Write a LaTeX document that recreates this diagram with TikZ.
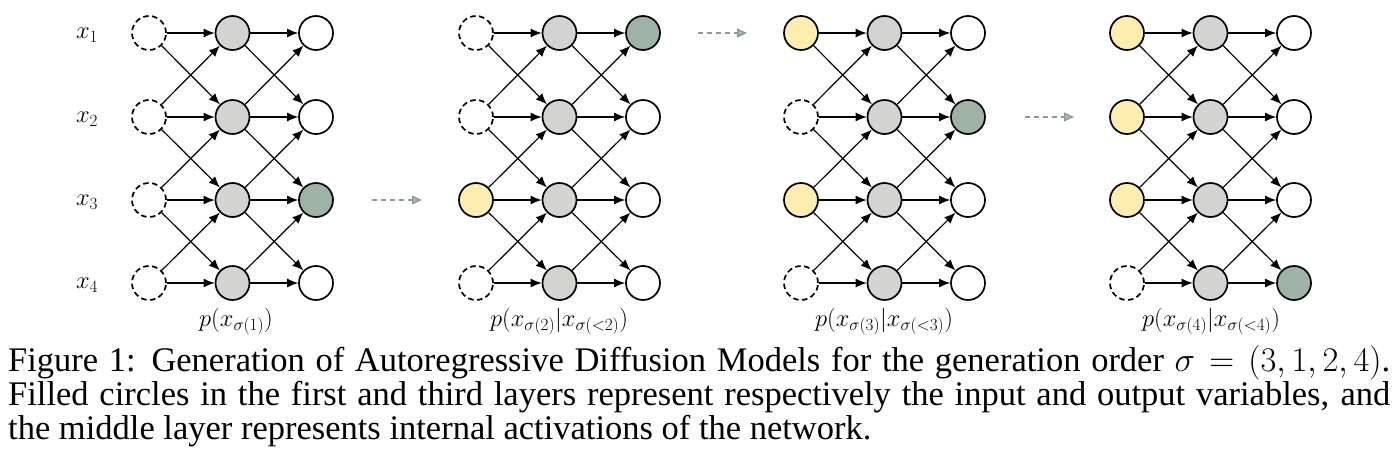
\documentclass[tikz,border=0pt]{standalone}
\usepackage{fix-cm}
\usepackage{fontspec}
\newfontfamily\capfont{Liberation Serif}
\usetikzlibrary{arrows.meta}
\definecolor{midgray}{HTML}{D3D4D2}
\definecolor{outgreen}{HTML}{9EB2A6}
\definecolor{inyellow}{HTML}{FDEDAE}
\definecolor{flowgray}{HTML}{8C9A92}
\definecolor{flowfill}{HTML}{A8B8AE}
\tikzset{
  neuron/.style={circle, draw=black, line width=1.7pt, minimum size=34pt, inner sep=0pt},
  hidden/.style={neuron, dash pattern=on 5.5pt off 3.5pt},
  given/.style={neuron, fill=inyellow},
  mid/.style={neuron, fill=midgray},
  outplain/.style={neuron, fill=white},
  target/.style={neuron, fill=outgreen},
  conn/.style={line width=1.2pt, -{Latex[length=11pt,width=9pt]}},
  flow/.style={draw=flowgray, line width=1.3pt, dash pattern=on 5pt off 4pt, -{Triangle[length=10pt,width=9pt,fill=flowfill]}},
  varlabel/.style={font=\fontsize{24.5}{29}\selectfont, anchor=base, inner sep=0pt},
  caption/.style={font=\capfont\fontsize{34.5}{38}\selectfont, anchor=base west, inner sep=0pt}
}
\newcommand\rowpos[1]{\ifcase#1\or 33\or 117\or 200\or 283\fi}
\newcommand\drawpanel[7]{%
  \foreach \r/\st in {1/#3,2/#4,3/#5,4/#6}{
    \node[\st] (P#1I\r) at (#2, {\rowpos{\r}}) {};
    \node[mid] (P#1M\r) at (#2+83.5, {\rowpos{\r}}) {};
    \ifnum\r=#7\relax
      \node[target] (P#1O\r) at (#2+167, {\rowpos{\r}}) {};
    \else
      \node[outplain] (P#1O\r) at (#2+167, {\rowpos{\r}}) {};
    \fi
  }
  \foreach \r in {1,2,3,4}{
    \draw[conn] (P#1I\r) -- (P#1M\r);
    \draw[conn] (P#1M\r) -- (P#1O\r);
  }
  \foreach \r/\n in {1/2,2/3,3/4}{
    \draw[conn] (P#1I\r) -- (P#1M\n);
    \draw[conn] (P#1I\n) -- (P#1M\r);
    \draw[conn] (P#1M\r) -- (P#1O\n);
    \draw[conn] (P#1M\n) -- (P#1O\r);
  }
}
\begin{document}
\begin{tikzpicture}[x=1pt, y=-1pt]
\useasboundingbox (0,0) rectangle (1400,463);
\drawpanel{1}{149}{hidden}{hidden}{hidden}{hidden}{3}
\drawpanel{2}{476}{hidden}{hidden}{given}{hidden}{1}
\drawpanel{3}{801}{given}{hidden}{given}{hidden}{2}
\drawpanel{4}{1127}{given}{given}{given}{hidden}{4}
% variable labels
\node[varlabel] (L1) at (87, 38.5) {$x_1$};
\node[varlabel] (L2) at (87, 122.5) {$x_2$};
\node[varlabel] (L3) at (87, 205.5) {$x_3$};
\node[varlabel] (L4) at (87, 288.5) {$x_4$};
% distribution labels
\node[varlabel] (D1) at (236, 326) {$p\bigl(x_{\sigma(1)}\bigr)$};
\node[varlabel] (D2) at (559, 326) {$p\bigl(x_{\sigma(2)}\big|x_{\sigma(<2)}\bigr)$};
\node[varlabel] (D3) at (884, 326) {$p\bigl(x_{\sigma(3)}\big|x_{\sigma(<3)}\bigr)$};
\node[varlabel] (D4) at (1211, 326) {$p\bigl(x_{\sigma(4)}\big|x_{\sigma(<4)}\bigr)$};
% flow arrows between panels
\coordinate (F1a) at (372, 200); \coordinate (F1b) at (422, 200);
\coordinate (F2a) at (698, 33);  \coordinate (F2b) at (747, 33);
\coordinate (F3a) at (1025, 117); \coordinate (F3b) at (1074, 117);
\draw[flow] (F1a) -- (F1b);
\draw[flow] (F2a) -- (F2b);
\draw[flow] (F3a) -- (F3b);
% caption
\node[caption] (C1) at (8, 371) {\makebox[1382pt][s]{Figure 1: Generation of Autoregressive Diffusion Models for the generation order $\sigma = (3, 1, 2, 4)$.}};
\node[caption] (C2) at (8, 405) {\makebox[1382pt][s]{Filled circles in the first and third layers represent respectively the input and output variables, and}};
\node[caption] (C3) at (8, 439) {the middle layer represents internal activations of the network.};
\end{tikzpicture}
\end{document}
